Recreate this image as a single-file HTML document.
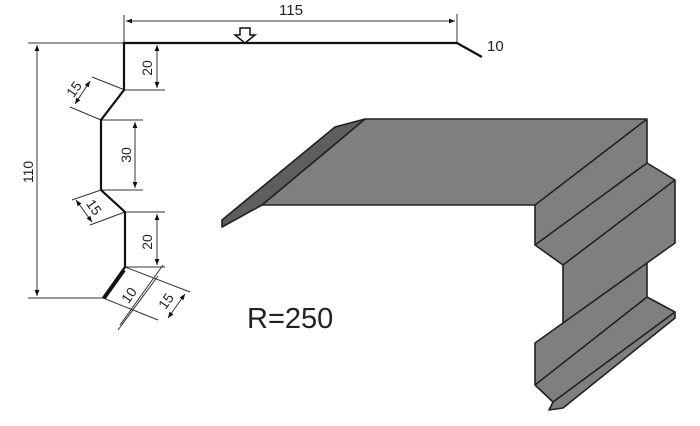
<!DOCTYPE html>
<html><head><style>body{margin:0;background:#fff}svg{display:block}</style></head><body>
<svg width="700" height="426" viewBox="0 0 700 426" xmlns="http://www.w3.org/2000/svg" font-family="Liberation Sans, sans-serif">
<defs><marker id="a" viewBox="0 0 10 10" refX="10" refY="5" markerWidth="8" markerHeight="6" orient="auto-start-reverse"><path d="M0,1 L10,5 L0,9z" fill="#111"/></marker></defs>
<g stroke="#333" stroke-width="1" fill="none">
<line x1="124" y1="15" x2="124" y2="43"/><line x1="457" y1="14" x2="457" y2="43"/>
<line x1="126" y1="21" x2="455" y2="21" marker-start="url(#a)" marker-end="url(#a)"/>
<line x1="28" y1="43" x2="124" y2="43"/><line x1="28" y1="298" x2="103" y2="298"/>
<line x1="37" y1="45" x2="37" y2="296" marker-start="url(#a)" marker-end="url(#a)"/>
<line x1="125" y1="90" x2="165" y2="90"/>
<line x1="157" y1="45" x2="157" y2="88" marker-start="url(#a)" marker-end="url(#a)"/>
<line x1="101" y1="120" x2="143" y2="120"/><line x1="101" y1="190" x2="143" y2="190"/>
<line x1="135" y1="122" x2="135" y2="188" marker-start="url(#a)" marker-end="url(#a)"/>
<line x1="125" y1="212" x2="165" y2="212"/><line x1="125" y1="267" x2="165" y2="267"/>
<line x1="157" y1="214" x2="157" y2="265" marker-start="url(#a)" marker-end="url(#a)"/>
<line x1="125" y1="90" x2="92" y2="77"/><line x1="101" y1="120" x2="70" y2="107"/>
<line x1="90" y1="81" x2="75" y2="104" marker-start="url(#a)" marker-end="url(#a)"/>
<line x1="101" y1="190" x2="72" y2="200"/><line x1="125" y1="212" x2="90" y2="225"/>
<line x1="76" y1="200" x2="92" y2="222" marker-start="url(#a)" marker-end="url(#a)"/>
<line x1="125" y1="267" x2="190" y2="292"/><line x1="103" y1="298" x2="158" y2="320"/>
<line x1="163" y1="265" x2="120" y2="325"/>
<line x1="158" y1="276" x2="118" y2="330" />
<line x1="185" y1="294" x2="168" y2="318" marker-start="url(#a)" marker-end="url(#a)"/>
</g>
<polyline points="482,57 457,43 124,43 124,90 101,120 101,190 125,212 125,267 103,298" fill="none" stroke="#111" stroke-width="2.2"/>
<line x1="124" y1="270" x2="104" y2="298" stroke="#111" stroke-width="4"/>
<path d="M240,28 h10 v7 h5 l-10,8 l-10,-8 h5z" fill="#fff" stroke="#111" stroke-width="1.5"/>
<g fill="#222" font-size="14">
<text x="291" y="15" text-anchor="middle" font-size="15">115</text>
<text x="487" y="51" font-size="15">10</text>
<text transform="translate(33,172) rotate(-90)" text-anchor="middle">110</text>
<text transform="translate(152,68) rotate(-90)" text-anchor="middle">20</text>
<text transform="translate(131,155) rotate(-90)" text-anchor="middle">30</text>
<text transform="translate(152,242) rotate(-90)" text-anchor="middle">20</text>
<text transform="translate(78,92) rotate(-55)" text-anchor="middle">15</text>
<text transform="translate(90,210) rotate(55)" text-anchor="middle">15</text>
<text transform="translate(133,298) rotate(-55)" text-anchor="middle">10</text>
<text transform="translate(170,304) rotate(-55)" text-anchor="middle">15</text>
</g>
<text x="247" y="328" font-size="29" fill="#222">R=250</text>
<g stroke="#222" stroke-width="1.6" stroke-linejoin="round">
<polygon fill="#7f7f7f" points="365,119 647,119 647,163 675,180 675,243 647,263 647,297 675,312 675,318 563,408 549,410 553,402 535,385 535,343 563,323 563,265 535,245 535,205 262,205"/>
<polygon fill="#5e5e5e" points="222,220 335,127 365,119 262,205 222,227"/>
<g fill="none">
<line x1="535" y1="205" x2="647" y2="119"/>
<line x1="535" y1="245" x2="647" y2="163"/>
<line x1="563" y1="265" x2="675" y2="180"/>
<line x1="563" y1="323" x2="647" y2="263"/>
<line x1="535" y1="385" x2="647" y2="297"/>
<line x1="553" y1="402" x2="675" y2="312"/>
</g></g>
</svg>
</body></html>
